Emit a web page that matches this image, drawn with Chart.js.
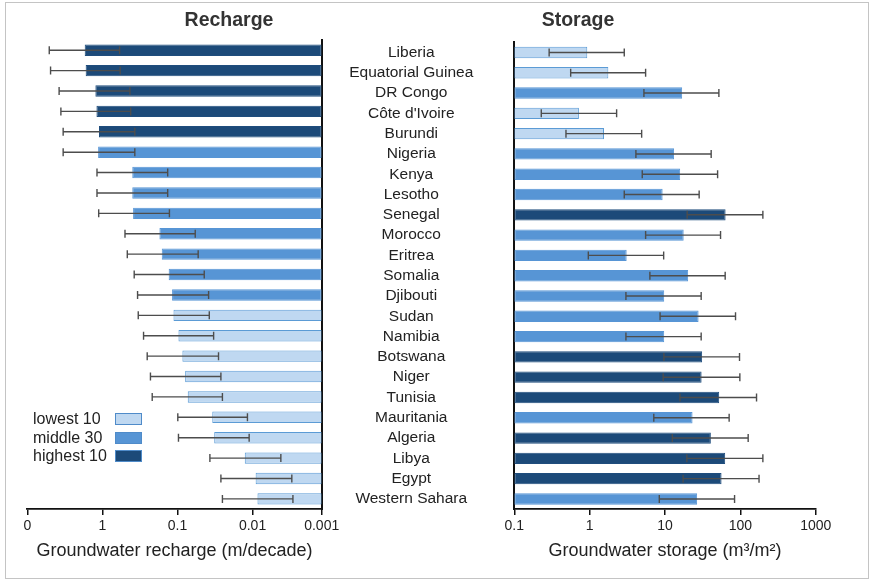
<!DOCTYPE html>
<html>
<head>
<meta charset="utf-8">
<script src="https://cdn.jsdelivr.net/npm/chart.js"></script>
<style>
  body { margin: 0; background: #fff; font-family: "Liberation Sans", Arial, sans-serif; }
  #wrap { position: relative; width: 871px; height: 581px; overflow: hidden; background: #fff; }
  .frame { position: absolute; left: 5px; top: 2px; width: 862px; height: 575px; border: 1.5px solid #c4c4c4; }
  canvas { position: absolute; top: 0; }
  #rechargeChart { left: 0; }
  #storageChart { left: 322px; }
  .ttl { position: absolute; top: 8px; font-weight: bold; font-size: 19.5px; color: #333; transform: translateX(-50%); white-space: nowrap; }
  #legend { position: absolute; left: 33px; top: 410px; font-size: 16px; color: #222; }
  #legend .row { position: relative; height: 18.5px; line-height: 18.5px; }
  #legend .box { position: absolute; left: 82px; top: 3px; width: 25px; height: 10px; border: 1px solid #4f8bc9; }
</style>
</head>
<body>
<div id="wrap">
  <div class="frame"></div>
  <canvas id="rechargeChart" width="345" height="581"></canvas>
  <canvas id="storageChart" width="549" height="581"></canvas>
  <div class="ttl" style="left:229px">Recharge</div>
  <div class="ttl" style="left:578px">Storage</div>
  <div id="legend"></div>
</div>
<script>
const countries = ['Liberia', 'Equatorial Guinea', 'DR Congo', "Côte d'Ivoire", 'Burundi', 'Nigeria', 'Kenya', 'Lesotho',
  'Senegal', 'Morocco', 'Eritrea', 'Somalia', 'Djibouti', 'Sudan', 'Namibia', 'Botswana', 'Niger', 'Tunisia',
  'Mauritania', 'Algeria', 'Libya', 'Egypt', 'Western Sahara'];

// recharge in m/decade
const rechargeMean = [1.72, 1.67, 1.24, 1.20, 1.11, 1.14, 0.40, 0.40, 0.39, 0.174, 0.162, 0.131, 0.118, 0.113, 0.097,
  0.086, 0.079, 0.073, 0.0344, 0.0324, 0.0127, 0.0091, 0.0086];
const rechargeLow = [0.59, 0.58, 0.43, 0.42, 0.37, 0.37, 0.135, 0.135, 0.128, 0.058, 0.053, 0.044, 0.0385, 0.0377, 0.033,
  0.0284, 0.0264, 0.0252, 0.0117, 0.0111, 0.0042, 0.0030, 0.0029];
const rechargeHigh = [5.1, 4.9, 3.77, 3.57, 3.33, 3.33, 1.18, 1.18, 1.12, 0.50, 0.466, 0.377, 0.34, 0.333, 0.283,
  0.253, 0.229, 0.217, 0.099, 0.097, 0.037, 0.0264, 0.0252];
const rechargeClass = [2, 2, 2, 2, 2, 1, 1, 1, 1, 1, 1, 1, 1, 0, 0, 0, 0, 0, 0, 0, 0, 0, 0];

// storage in m3/m2
const storageMean = [0.93, 1.77, 16.9, 0.72, 1.55, 13.2, 15.9, 9.3, 63.7, 17.7, 3.1, 20.3, 9.76, 27.9, 9.76,
  31.1, 30.6, 52.4, 23.2, 40.6, 62.9, 56.3, 26.7];
const storageLow = [0.29, 0.56, 5.25, 0.228, 0.485, 4.11, 4.99, 2.88, 19.7, 5.53, 0.96, 6.3, 3.03, 8.6, 3.03,
  9.67, 9.46, 15.8, 7.1, 12.5, 19.5, 17.4, 8.4];
const storageHigh = [2.88, 5.53, 51.9, 2.28, 4.9, 41, 49.9, 28.4, 199, 54.6, 9.6, 62.9, 30.2, 86.3, 30.2,
  97.5, 98.5, 164, 71, 127, 199, 177, 83.8];
const storageClass = [0, 0, 1, 0, 0, 1, 1, 1, 2, 1, 1, 1, 1, 1, 1, 2, 2, 2, 1, 2, 2, 2, 1];

const classLabels = ['lowest 10', 'middle 30', 'highest 10'];
const classColors = ['#bfd8f1', '#5795d5', '#1c4a79'];
const classBorders = ['#5b9bd5', '#5795d5', '#1f4d7d'];

// the recharge axis runs right to left; its right end is labelled 0.001
const rechargeAxisEnd = 0.0012;
const rechargeTicks = [10, 1, 0.1, 0.01, rechargeAxisEnd];
const rechargeTickLabels = ['0', '1', '0.1', '0.01', '0.001'];
const storageTicks = [0.1, 1, 10, 100, 1000];
const storageTickLabels = ['0.1', '1', '10', '100', '1000'];

Chart.defaults.font.family = '"Liberation Sans", Arial, sans-serif';
Chart.defaults.color = '#222';

function errorBars(low, high) {
  return {
    id: 'errorBars',
    afterDatasetsDraw(chart) {
      const { ctx, scales: { x, y } } = chart;
      ctx.save();
      ctx.strokeStyle = '#4d4d4d';
      ctx.lineWidth = 1.4;
      low.forEach((lo, i) => {
        const yy = y.getPixelForValue(i);
        const x1 = x.getPixelForValue(lo);
        const x2 = x.getPixelForValue(high[i]);
        ctx.beginPath();
        ctx.moveTo(x1, yy); ctx.lineTo(x2, yy);
        ctx.moveTo(x1, yy - 4); ctx.lineTo(x1, yy + 4);
        ctx.moveTo(x2, yy - 4); ctx.lineTo(x2, yy + 4);
        ctx.stroke();
      });
      ctx.restore();
    }
  };
}

function xAxis(min, max, reverse, ticks, labels, title) {
  return {
    type: 'logarithmic',
    min: min,
    max: max,
    reverse: reverse,
    afterBuildTicks: axis => { axis.ticks = ticks.map(v => ({ value: v })); },
    ticks: {
      autoSkip: false,
      maxRotation: 0,
      padding: 3,
      font: { size: 14, weight: 'normal' },
      color: '#222',
      callback: (v, i) => labels[i]
    },
    grid: { display: true, drawOnChartArea: false, drawTicks: true, tickLength: 6, color: '#111', lineWidth: 1.5 },
    border: { display: true, color: '#111', width: 1.8 },
    title: { display: true, text: title, font: { size: 18, weight: 'normal' }, color: '#222', padding: { top: 2, bottom: 0 } }
  };
}

const barOpts = {
  indexAxis: 'y',
  categoryPercentage: 1,
  barPercentage: 0.56,
  borderWidth: 1,
  borderSkipped: false
};

new Chart(document.getElementById('rechargeChart'), {
  type: 'bar',
  data: {
    labels: countries,
    datasets: [{
      data: rechargeMean.map(v => [rechargeAxisEnd, v]),
      backgroundColor: rechargeClass.map(c => classColors[c]),
      borderColor: rechargeClass.map(c => classBorders[c])
    }]
  },
  options: {
    ...barOpts,
    responsive: false,
    animation: false,
    layout: { padding: { left: 27.3, right: 0, top: 40, bottom: 19.5 } },
    plugins: { legend: { display: false }, tooltip: { enabled: false } },
    scales: {
      x: xAxis(rechargeAxisEnd, 10, true, rechargeTicks, rechargeTickLabels, 'Groundwater recharge (m/decade)'),
      y: {
        position: 'right',
        ticks: { display: false },
        grid: { display: false },
        border: { display: true, color: '#111', width: 2 },
        afterFit: axis => { axis.width = 23.3; }
      }
    }
  },
  plugins: [errorBars(rechargeLow, rechargeHigh)]
});

new Chart(document.getElementById('storageChart'), {
  type: 'bar',
  data: {
    labels: countries,
    datasets: [{
      data: storageMean.map(v => [0.1, v]),
      backgroundColor: storageClass.map(c => classColors[c]),
      borderColor: storageClass.map(c => classBorders[c])
    }]
  },
  options: {
    ...barOpts,
    responsive: false,
    animation: false,
    layout: { padding: { left: 0, right: 55.3, top: 40, bottom: 19.5 } },
    plugins: { legend: { display: false }, tooltip: { enabled: false } },
    scales: {
      x: xAxis(0.1, 1000, false, storageTicks, storageTickLabels, 'Groundwater storage (m\u00b3/m\u00b2)'),
      y: {
        position: 'left',
        ticks: { autoSkip: false, crossAlign: 'center', padding: 33, font: { size: 15.5, weight: 'normal' }, color: '#222' },
        grid: { display: false },
        border: { display: true, color: '#111', width: 2 },
        afterFit: axis => { axis.width = 192.3; }
      }
    }
  },
  plugins: [errorBars(storageLow, storageHigh)]
});

// legend
const legend = document.getElementById('legend');
classLabels.forEach((label, i) => {
  const row = document.createElement('div');
  row.className = 'row';
  row.textContent = label;
  const box = document.createElement('span');
  box.className = 'box';
  box.style.background = classColors[i];
  row.appendChild(box);
  legend.appendChild(row);
});
</script>
</body>
</html>
